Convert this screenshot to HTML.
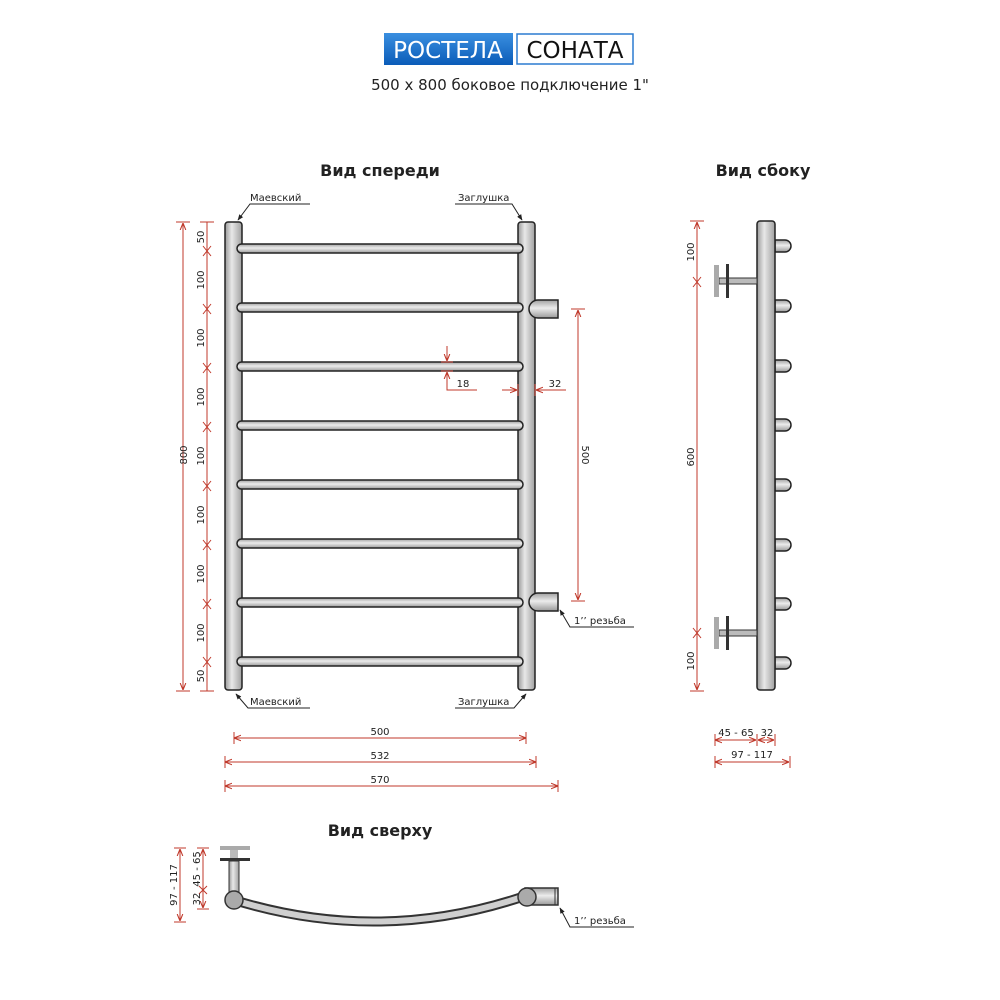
<!DOCTYPE html>
<html><head><meta charset="utf-8"><style>
html,body{margin:0;padding:0;background:#fff;}
svg{display:block;}
text{font-family:"DejaVu Sans","Liberation Sans",sans-serif;}
</style></head><body>
<svg width="1000" height="1000" viewBox="0 0 1000 1000" xmlns="http://www.w3.org/2000/svg">
<defs>
<linearGradient id="gv" x1="0" y1="0" x2="1" y2="0">
<stop offset="0" stop-color="#9a9a9a"/><stop offset="0.4" stop-color="#e8e8e8"/><stop offset="1" stop-color="#a0a0a0"/></linearGradient>
<linearGradient id="gh" x1="0" y1="0" x2="0" y2="1">
<stop offset="0" stop-color="#a0a0a0"/><stop offset="0.45" stop-color="#ececec"/><stop offset="1" stop-color="#9a9a9a"/></linearGradient>
<linearGradient id="gb" x1="0" y1="0" x2="0" y2="1">
<stop offset="0" stop-color="#3a8fe0"/><stop offset="1" stop-color="#0b5cb8"/></linearGradient>
<marker id="a" viewBox="0 0 10 10" refX="10" refY="5" markerWidth="7" markerHeight="7" orient="auto-start-reverse"><path d="M0,1 L10,5 L0,9" fill="none" stroke="#c0392b" stroke-width="1.5"/></marker>
<marker id="k" viewBox="0 0 10 10" refX="9" refY="5" markerWidth="6" markerHeight="6" orient="auto"><path d="M0,1 L10,5 L0,9 z" fill="#222"/></marker>
</defs>

<rect x="384" y="33" width="129" height="32" fill="url(#gb)"/>
<text x="448" y="58" font-size="23" fill="#fff" text-anchor="middle" font-family="Liberation Sans">РОСТЕЛА</text>
<rect x="517" y="34" width="116" height="30" fill="#fff" stroke="#2b7bd0" stroke-width="1.5"/>
<text x="575" y="58" font-size="23" fill="#111" text-anchor="middle" font-family="Liberation Sans">СОНАТА</text>
<text x="510" y="90" font-size="15" fill="#222" text-anchor="middle">500 x 800 боковое подключение 1"</text>

<text x="380" y="176" font-size="16" fill="#222" text-anchor="middle" font-weight="bold">Вид спереди</text>
<text x="763" y="176" font-size="16" fill="#222" text-anchor="middle" font-weight="bold">Вид сбоку</text>
<text x="380" y="836" font-size="16" fill="#222" text-anchor="middle" font-weight="bold">Вид сверху</text>

<g stroke="#222" stroke-width="1.5">
<rect x="225" y="222" width="17" height="468" rx="3" fill="url(#gv)"/>
<rect x="518" y="222" width="17" height="468" rx="3" fill="url(#gv)"/>
<g fill="url(#gh)">
<rect x="237" y="244" width="286" height="9" rx="4.5"/>
<rect x="237" y="303" width="286" height="9" rx="4.5"/>
<rect x="237" y="362" width="286" height="9" rx="4.5"/>
<rect x="237" y="421" width="286" height="9" rx="4.5"/>
<rect x="237" y="480" width="286" height="9" rx="4.5"/>
<rect x="237" y="539" width="286" height="9" rx="4.5"/>
<rect x="237" y="598" width="286" height="9" rx="4.5"/>
<rect x="237" y="657" width="286" height="9" rx="4.5"/>
</g>
<g fill="url(#gh)">
<path d="M538,300 h20 v18 h-20 a9,9 0 0 1 0,-18 z"/>
<path d="M538,593 h20 v18 h-20 a9,9 0 0 1 0,-18 z"/>
</g>
</g>

<g stroke="#222" stroke-width="1" fill="none">
<path d="M310,204 H250 L238,220" marker-end="url(#k)"/>
<path d="M455,204 H512 L522,220" marker-end="url(#k)"/>
<path d="M310,708 H248 L236,694" marker-end="url(#k)"/>
<path d="M455,708 H514 L526,694" marker-end="url(#k)"/>
<path d="M634,627 H570 L560,610" marker-end="url(#k)"/>
<path d="M634,927 H570 L560,908" marker-end="url(#k)"/>
</g>
<g font-size="10" fill="#222">
<text x="250" y="201">Маевский</text>
<text x="458" y="201">Заглушка</text>
<text x="250" y="705">Маевский</text>
<text x="458" y="705">Заглушка</text>
<text x="574" y="624">1’’ резьба</text>
<text x="574" y="924">1’’ резьба</text>
</g>

<g stroke="#c0392b" stroke-width="1" fill="none">
<line x1="183" y1="223" x2="183" y2="690" marker-start="url(#a)" marker-end="url(#a)"/>
<line x1="176" y1="222" x2="190" y2="222"/><line x1="176" y1="691" x2="190" y2="691"/>
<line x1="207" y1="222" x2="207" y2="691"/>
<g>
<line x1="200" y1="222" x2="214" y2="222"/><line x1="200" y1="691" x2="214" y2="691"/>
<path d="M203,246 L207,251 L211,246 M203,256 L207,251 L211,256"/>
<path d="M203,304 L207,309 L211,304 M203,314 L207,309 L211,314"/>
<path d="M203,363 L207,368 L211,363 M203,373 L207,368 L211,373"/>
<path d="M203,422 L207,427 L211,422 M203,432 L207,427 L211,432"/>
<path d="M203,481 L207,486 L211,481 M203,491 L207,486 L211,491"/>
<path d="M203,540 L207,545 L211,540 M203,550 L207,545 L211,550"/>
<path d="M203,599 L207,604 L211,599 M203,609 L207,604 L211,609"/>
<path d="M203,657 L207,662 L211,657 M203,667 L207,662 L211,667"/>
</g>
<line x1="578" y1="310" x2="578" y2="600" marker-start="url(#a)" marker-end="url(#a)"/>
<line x1="571" y1="309" x2="585" y2="309"/><line x1="571" y1="601" x2="585" y2="601"/>
<line x1="447" y1="346" x2="447" y2="361" marker-end="url(#a)"/>
<line x1="447" y1="390" x2="447" y2="372" marker-end="url(#a)"/>
<path d="M441,362 H453 M441,371 H453 M447,372 V390 H477"/>
<line x1="502" y1="390" x2="517" y2="390" marker-end="url(#a)"/>
<line x1="566" y1="390" x2="536" y2="390" marker-end="url(#a)"/>
<path d="M518,384 V396 M535,384 V396 M536,390 H566"/>
<line x1="234" y1="738" x2="526" y2="738" marker-start="url(#a)" marker-end="url(#a)"/>
<path d="M234,732 V744 M526,732 V744"/>
<line x1="225" y1="762" x2="536" y2="762" marker-start="url(#a)" marker-end="url(#a)"/>
<path d="M225,756 V768 M536,756 V768"/>
<line x1="225" y1="786" x2="558" y2="786" marker-start="url(#a)" marker-end="url(#a)"/>
<path d="M225,780 V792 M558,780 V792"/>
<line x1="697" y1="222" x2="697" y2="690" marker-start="url(#a)" marker-end="url(#a)"/>
<path d="M690,221 H704 M690,691 H704 M693,277 L697,282 L701,277 M693,287 L697,282 L701,287 M693,628 L697,633 L701,628 M693,638 L697,633 L701,638"/>
<line x1="715" y1="740" x2="756" y2="740" marker-start="url(#a)" marker-end="url(#a)"/>
<line x1="758" y1="740" x2="774" y2="740" marker-start="url(#a)" marker-end="url(#a)"/>
<path d="M715,734 V746 M757,734 V746 M775,734 V746"/>
<line x1="715" y1="762" x2="789" y2="762" marker-start="url(#a)" marker-end="url(#a)"/>
<path d="M715,756 V768 M790,756 V768"/>
<line x1="180" y1="849" x2="180" y2="921" marker-start="url(#a)" marker-end="url(#a)"/>
<path d="M174,848 H186 M174,922 H186"/>
<line x1="203" y1="849" x2="203" y2="908" marker-start="url(#a)" marker-end="url(#a)"/>
<path d="M197,848 H209 M197,909 H209 M199,886 L203,890 L207,886 M199,894 L203,890 L207,894"/>
</g>
<g font-size="10" fill="#222" text-anchor="middle">
<text transform="translate(187,455) rotate(-90)">800</text>
<text transform="translate(204,237) rotate(-90)">50</text>
<text transform="translate(204,280) rotate(-90)">100</text>
<text transform="translate(204,338) rotate(-90)">100</text>
<text transform="translate(204,397) rotate(-90)">100</text>
<text transform="translate(204,456) rotate(-90)">100</text>
<text transform="translate(204,515) rotate(-90)">100</text>
<text transform="translate(204,574) rotate(-90)">100</text>
<text transform="translate(204,633) rotate(-90)">100</text>
<text transform="translate(204,676) rotate(-90)">50</text>
<text transform="translate(582,455) rotate(90)">500</text>
<text x="463" y="387">18</text>
<text x="555" y="387">32</text>
<text x="380" y="735">500</text>
<text x="380" y="759">532</text>
<text x="380" y="783">570</text>
<text transform="translate(694,252) rotate(-90)">100</text>
<text transform="translate(694,457) rotate(-90)">600</text>
<text transform="translate(694,661) rotate(-90)">100</text>
<text x="736" y="736">45 - 65</text>
<text x="767" y="736">32</text>
<text x="752" y="758">97 - 117</text>
<text transform="translate(177,885) rotate(-90)">97 - 117</text>
<text transform="translate(200,869) rotate(-90)">45 - 65</text>
<text transform="translate(200,899) rotate(-90)">32</text>
</g>

<g stroke="#222" stroke-width="1.5">
<g fill="url(#gh)">
<path d="M775,240 h10 a6,6 0 0 1 0,12 h-10 z"/>
<path d="M775,300 h10 a6,6 0 0 1 0,12 h-10 z"/>
<path d="M775,360 h10 a6,6 0 0 1 0,12 h-10 z"/>
<path d="M775,419 h10 a6,6 0 0 1 0,12 h-10 z"/>
<path d="M775,479 h10 a6,6 0 0 1 0,12 h-10 z"/>
<path d="M775,539 h10 a6,6 0 0 1 0,12 h-10 z"/>
<path d="M775,598 h10 a6,6 0 0 1 0,12 h-10 z"/>
<path d="M775,657 h10 a6,6 0 0 1 0,12 h-10 z"/>
</g>
<rect x="757" y="221" width="18" height="469" rx="3" fill="url(#gv)"/>
<rect x="719" y="278" width="38" height="6" fill="#bbb" stroke="#333" stroke-width="1"/>
<rect x="719" y="630" width="38" height="6" fill="#bbb" stroke="#333" stroke-width="1"/>
</g>
<rect x="714" y="265" width="5" height="32" fill="#aaa"/>
<rect x="726" y="264" width="3" height="34" fill="#333"/>
<rect x="714" y="617" width="5" height="32" fill="#aaa"/>
<rect x="726" y="616" width="3" height="34" fill="#333"/>

<rect x="220" y="846" width="30" height="4" fill="#aaa"/>
<rect x="220" y="858" width="30" height="3" fill="#333"/>
<rect x="230" y="850" width="8" height="8" fill="#bbb"/>
<rect x="229" y="861" width="10" height="32" fill="url(#gv)" stroke="#333" stroke-width="1"/>
<path d="M234,900 Q380,945 525,896" fill="none" stroke="#333" stroke-width="10"/>
<path d="M234,900 Q380,945 525,896" fill="none" stroke="#cfcfcf" stroke-width="6"/>
<path d="M525,888 h33 v17 h-33 z" fill="url(#gh)" stroke="#333" stroke-width="1.5"/>
<line x1="555" y1="888" x2="555" y2="905" stroke="#333"/>
<circle cx="234" cy="900" r="9" fill="#aaa" stroke="#333" stroke-width="1.5"/>
<circle cx="527" cy="897" r="9" fill="#aaa" stroke="#333" stroke-width="1.5"/>
</svg>
</body></html>
